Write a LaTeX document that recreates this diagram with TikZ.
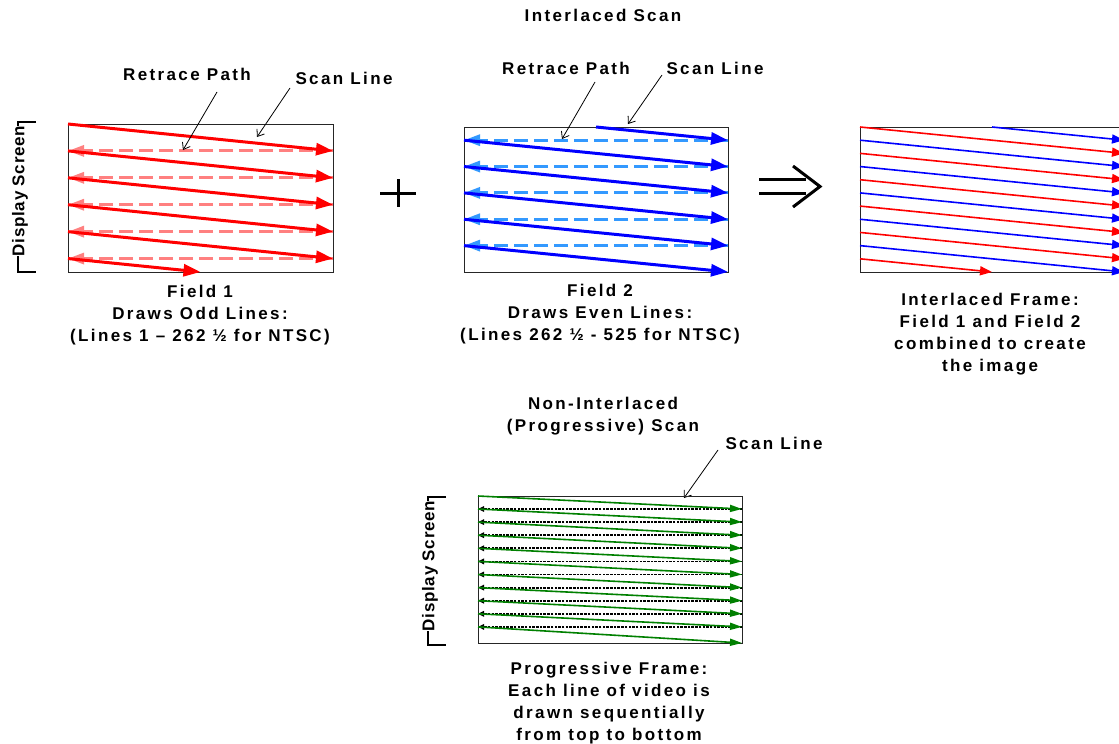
\documentclass[tikz,border=0pt]{standalone}
\usepackage{fontspec}
\setmainfont{Liberation Sans}
\newfontfamily\spacedfont{Liberation Sans}[LetterSpace=14]
\newfontfamily\dsfont{Liberation Sans}[LetterSpace=4]
\usetikzlibrary{arrows.meta}
\definecolor{scred}{HTML}{FF0000}
\definecolor{rtred}{HTML}{FF8080}
\definecolor{scblue}{HTML}{0000FF}
\definecolor{rtblue}{HTML}{3399FF}
\definecolor{scgreen}{HTML}{008000}
\tikzset{
  lbl/.style={font=\spacedfont\bfseries\fontsize{17}{22}\selectfont, align=center, inner sep=0pt},
  dslbl/.style={font=\dsfont\bfseries\fontsize{17}{17}\selectfont, rotate=90, fill=white, inner sep=0.3pt},
  screenbox/.style={draw=black!85, line width=0.9pt},
  bracketline/.style={draw=black, line width=1.4pt},
  callout/.style={draw=black, line width=0.8pt, -{Straight Barb[length=6pt,width=9pt]}},
  fscanred/.style={draw=scred, line width=3pt, -{Triangle[length=17pt,width=12pt]}},
  fretred/.style={draw=rtred, line width=3pt, dash pattern=on 14pt off 6pt, -{Triangle[length=16pt,width=11pt]}},
  fscanblue/.style={draw=scblue, line width=3pt, -{Triangle[length=17pt,width=12pt]}},
  fretblue/.style={draw=rtblue, line width=3pt, dash pattern=on 14pt off 6pt, -{Triangle[length=16pt,width=11pt]}},
  iscanred/.style={draw=scred, line width=1.6pt, -{Triangle[length=12pt,width=9pt]}},
  iscanblue/.style={draw=scblue, line width=1.6pt, -{Triangle[length=12pt,width=9pt]}},
  pscan/.style={draw=scgreen, line width=1.6pt, -{Triangle[length=12pt,width=7pt]}},
  pret/.style={draw=black, line width=1.8pt, dash pattern=on 2.5pt off 1.2pt, -{Triangle[length=6pt,width=5.5pt]}},
  symbol/.style={draw=black, line width=3pt},
}
\begin{document}
\begin{tikzpicture}[x=1pt,y=-1pt]
\useasboundingbox (0,0) rectangle (1119,744);
\fill[white] (0,0) rectangle (1119,744);

% ---------- titles ----------
\node[lbl] (title) at (603,15) {Interlaced Scan};

% ---------- Field 1 ----------
\draw[screenbox] (68,124) rectangle (333,272);
\foreach \k in {1,...,5}
  \draw[fretred] (333,124+\k*26.91) -- (68,124+\k*26.91);
\foreach \k in {0,...,4}
  \draw[fscanred] (68,124+\k*26.91) -- (333,124+\k*26.91+26.91);
\draw[fscanred] (68,124+5*26.91) -- (200.5,272);

\draw[bracketline] (36,122) -- (18,122) -- (18,272) -- (36,272);
\node[dslbl] (ds1) at (20,191) {Display Screen};

\node[lbl] (rp1) at (187,74) {Retrace Path};
\node[lbl] (sl1) at (344,78) {Scan Line};
\coordinate (rp1a) at (217,92);
\coordinate (rp1b) at (183,150);
\coordinate (sl1a) at (290,88);
\coordinate (sl1b) at (257,137);
\draw[callout] (rp1a) -- (rp1b);
\draw[callout] (sl1a) -- (sl1b);

\node[lbl] (cap1) at (200,315) {Field 1\\Draws Odd Lines:\\(Lines 1 – 262 ½ for NTSC)};

% ---------- plus ----------
\draw[symbol] (380,193) -- (416,193);
\draw[symbol] (398,179) -- (398,207);

% ---------- Field 2 ----------
\draw[screenbox] (464,127) rectangle (728,272);
\foreach \k in {0,...,4}
  \draw[fretblue] (728,127+13.18+\k*26.36) -- (464,127+13.18+\k*26.36);
\draw[fscanblue] (596,127) -- (728,127+13.18);
\foreach \k in {0,...,4}
  \draw[fscanblue] (464,127+13.18+\k*26.36) -- (728,127+13.18+\k*26.36+26.36);

\node[lbl] (rp2) at (566,68) {Retrace Path};
\node[lbl] (sl2) at (715,68) {Scan Line};
\coordinate (rp2a) at (595,82);
\coordinate (rp2b) at (562,139);
\coordinate (sl2a) at (662,75);
\coordinate (sl2b) at (628,124);
\draw[callout] (rp2a) -- (rp2b);
\draw[callout] (sl2a) -- (sl2b);

\node[lbl] (cap2) at (600,314) {Field 2\\Draws Even Lines:\\(Lines 262 ½ - 525 for NTSC)};

% ---------- implies arrow ----------
\draw[symbol] (759,179.5) -- (806,179.5);
\draw[symbol] (759,193.5) -- (806,193.5);
\draw[symbol, line join=miter] (793,166) -- (820,186.5) -- (793,207);

% ---------- Interlaced frame ----------
\draw[screenbox] (860,127) rectangle (1124,272);
\foreach \k in {0,...,4}
  \draw[iscanred] (860,127+\k*26.36) -- (1124,127+\k*26.36+26.36);
\draw[iscanred] (860,127+5*26.36) -- (992,272);
\draw[iscanblue] (992,127) -- (1124,127+13.18);
\foreach \k in {0,...,4}
  \draw[iscanblue] (860,127+13.18+\k*26.36) -- (1124,127+13.18+\k*26.36+26.36);

\node[lbl] (cap3) at (990,334) {Interlaced Frame:\\Field 1 and Field 2\\combined to create\\the image};

% ---------- Progressive ----------
\node[lbl] (title2) at (603,416) {Non-Interlaced\\(Progressive) Scan};
\node[lbl] (sl3) at (774,443) {Scan Line};
\coordinate (sl3a) at (718,450);
\coordinate (sl3b) at (684,498);
\draw[callout] (sl3a) -- (sl3b);

\draw[screenbox] (478,496) rectangle (742,643);
\foreach \k in {0,...,9}
  \draw[pret] (742,509+\k*13.1) -- (478,509+\k*13.1);
\draw[pscan] (478,496) -- (742,509);
\foreach \k in {0,...,8}
  \draw[pscan] (478,509+\k*13.1) -- (742,509+\k*13.1+13.1);
\draw[pscan] (478,509+9*13.1) -- (742,643);

\draw[bracketline] (446,497) -- (428,497) -- (428,645) -- (446,645);
\node[dslbl] (ds2) at (430,566) {Display Screen};

\node[lbl] (cap4) at (609,703.5) {Progressive Frame:\\Each line of video is\\drawn sequentially\\from top to bottom};
\end{tikzpicture}
\end{document}
